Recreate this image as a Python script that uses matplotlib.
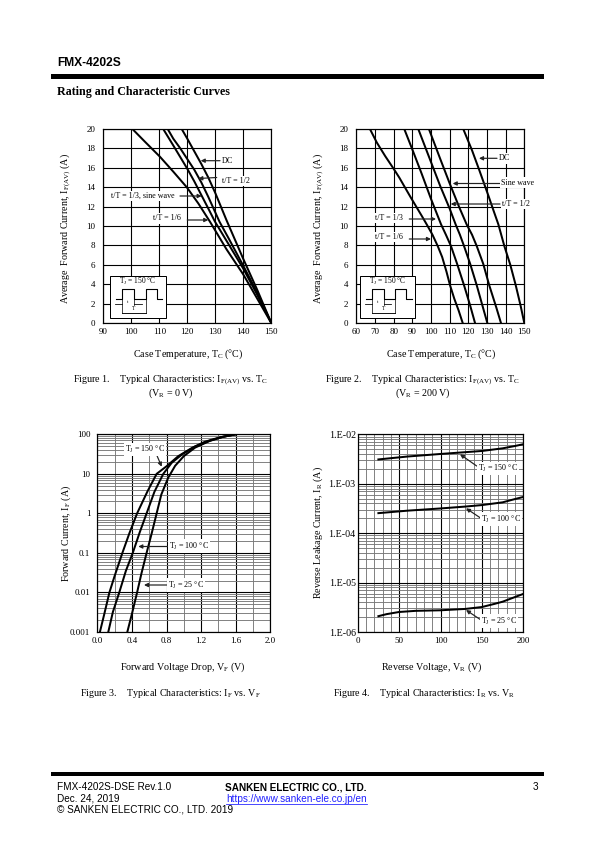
import numpy as np
import matplotlib
matplotlib.use('Agg')
import matplotlib.pyplot as plt
from matplotlib.lines import Line2D
from matplotlib.patches import Rectangle
from matplotlib.ticker import LogLocator, MultipleLocator, NullFormatter

plt.rcParams['font.family'] = ['Liberation Serif', 'DejaVu Sans']
plt.rcParams['mathtext.fontset'] = 'custom'
plt.rcParams['mathtext.rm'] = 'Liberation Serif'
plt.rcParams['mathtext.default'] = 'rm'

W, H = 595, 842

# figure 1, VR = 0 V
fig1_dc_t = [118, 120, 122.5, 125, 127.5, 130, 132, 134, 137, 140, 142.5, 145, 147.5, 150]
fig1_dc_i = [20, 19, 17.7, 16.4, 15, 13.4, 12, 10.6, 8.6, 6.6, 5, 3.4, 1.7, 0]
fig1_half_t = [113, 115, 117.5, 120, 122.5, 125, 127.5, 130, 131.5, 135, 140, 145, 150]
fig1_half_i = [20, 19, 18, 16.9, 15.8, 14.5, 13, 11.4, 10.44, 8.6, 5.9, 3.1, 0]
fig1_third_t = [111.4, 115, 117.5, 120, 122.5, 125, 127.5, 129.9, 135, 140, 145, 150]
fig1_third_i = [20, 18.3, 17.1, 15.9, 14.6, 13.2, 11.8, 10.44, 8, 5.6, 2.9, 0]
fig1_sixth_t = [100.4, 105, 110.2, 115, 119.8, 124, 128.1, 134, 140, 145, 150]
fig1_sixth_i = [20, 18.65, 17.15, 15.6, 14, 12.3, 10.44, 7.6, 5, 2.5, 0]

# figure 2, VR = 200 V
fig2_sixth_t = [67.3, 71, 75.5, 80, 83, 86, 89, 92.4, 95.2, 97.7, 100.8, 103.6, 106, 108.3, 110.2, 112.5, 114.8, 117]
fig2_sixth_i = [20, 18.6, 17.2, 15.9, 15, 14, 13, 11.9, 11, 10.17, 9.1, 7.94, 6.8, 5.3, 3.9, 2.5, 1.3, 0]
fig2_third_t = [85.7, 90, 95, 100, 105.4, 108, 110.7, 114, 117.7, 121, 123.6]
fig2_third_i = [20, 17.9, 15.4, 12.8, 10.17, 9.1, 7.94, 6.1, 3.9, 1.8, 0]
fig2_half_t = [93.2, 100, 105, 110, 113.2, 115.5, 117.7, 121, 124.5, 128, 130.2]
fig2_half_i = [20, 16.6, 14.1, 11.8, 10.17, 9.1, 7.94, 6.1, 3.9, 1.5, 0]
fig2_sine_t = [98.9, 105, 110, 115, 119.1, 122, 124.5, 128, 131.2, 135, 137.5]
fig2_sine_i = [20, 16.9, 14.4, 12, 10.17, 9.1, 7.94, 6.1, 3.9, 1.6, 0]
fig2_dc_t = [117.3, 122, 126, 131, 133.5, 136.1, 139.3, 142.5, 145.4, 148, 150]
fig2_dc_i = [20, 17.8, 15.7, 13, 11.6, 10.17, 7.94, 6, 3.9, 1.8, 0]

# figure 3
vf_150 = [0.03, 0.08, 0.14, 0.2, 0.29, 0.37, 0.46, 0.58, 0.686, 0.8, 0.936, 1.1, 1.245, 1.42, 1.6]
if_150 = [0.001, 0.0028, 0.01, 0.026, 0.1, 0.31, 1, 3.6, 10, 15.5, 28, 46, 65, 84, 100]
vf_100 = [0.127, 0.18, 0.254, 0.33, 0.41, 0.49, 0.57, 0.66, 0.763, 0.86, 0.98, 1.13, 1.3, 1.45, 1.6]
if_100 = [0.001, 0.0032, 0.01, 0.035, 0.1, 0.33, 1, 3.5, 10, 19, 31, 49, 69, 86, 100]
vf_25 = [0.347, 0.41, 0.46, 0.51, 0.57, 0.63, 0.686, 0.74, 0.82, 0.9, 1.0, 1.13, 1.3, 1.45, 1.6]
if_25 = [0.001, 0.0035, 0.01, 0.03, 0.1, 0.32, 1, 3, 8, 16, 28, 46, 68, 86, 100]

# figure 4
vr_150 = [25, 60, 100, 130, 150, 175, 190, 200]
ir_150 = [3.1e-3, 3.55e-3, 4.0e-3, 4.35e-3, 4.6e-3, 5.2e-3, 5.8e-3, 6.3e-3]
vr_100 = [25, 60, 100, 130, 150, 175, 190, 200]
ir_100 = [2.54e-4, 2.85e-4, 3.16e-4, 3.45e-4, 3.7e-4, 4.2e-4, 4.9e-4, 5.4e-4]
vr_25 = [25, 35, 50, 70, 100, 130, 150, 165, 175, 190, 200]
ir_25 = [2.09e-6, 2.3e-6, 2.54e-6, 2.68e-6, 2.75e-6, 2.93e-6, 3.2e-6, 3.7e-6, 4.1e-6, 5.1e-6, 5.9e-6]

lin_y_ticks = np.arange(0, 21, 2)
fig1_x_ticks = np.arange(90, 151, 10)
fig2_x_ticks = np.arange(60, 151, 10)
fig3_x_ticks = [0.0, 0.4, 0.8, 1.2, 1.6, 2.0]
fig3_y_ticks = [0.001, 0.01, 0.1, 1, 10, 100]
fig3_y_labels = ['0.001', '0.01', '0.1', '1', '10', '100']
fig4_x_ticks = [0, 50, 100, 150, 200]
fig4_y_ticks = [1e-6, 1e-5, 1e-4, 1e-3, 1e-2]
fig4_y_labels = ['1.E-06', '1.E-05', '1.E-04', '1.E-03', '1.E-02']


fig = plt.figure(figsize=(W / 72, H / 72), dpi=72)


def fx(x):
    return x / W


def fy(y):
    return 1 - y / H


def make_axes(left, right, top, bottom):
    ax = fig.add_axes([fx(left), fy(bottom), (right - left) / W, (bottom - top) / H])
    ax.set_axisbelow(True)
    for s in ax.spines.values():
        s.set_linewidth(1.2)
    ax.tick_params(which='both', length=0, labelsize=9)
    return ax


def label(x, y, s, size=9, ha='left', box=True, **kw):
    bbox = dict(fc='white', ec='none', pad=1.2) if box else None
    return fig.text(fx(x), fy(y), s, fontsize=size, ha=ha, va='center', bbox=bbox, zorder=6, **kw)


def arrow(x0, y0, x1, y1):
    ax4.annotate('', xy=(fx(x1), fy(y1)), xytext=(fx(x0), fy(y0)),
                 xycoords='figure fraction', textcoords='figure fraction',
                 arrowprops=dict(arrowstyle='-|>', color='#222222', lw=1.2, mutation_scale=8,
                                 shrinkA=0, shrinkB=0), annotation_clip=False, zorder=7)


def inset(x, y):
    # small pulse drawing, x and y are the upper left corner of the box
    fig.add_artist(Rectangle((fx(x), fy(y + 42)), 55.4 / W, 42 / H, transform=fig.transFigure,
                             fc='white', ec='black', lw=1, zorder=5))
    label(x + 27.7, y + 5.4, 'T$_{\\mathrm{J}}$ = 150 °C', size=7.5, ha='center', box=False)
    wave_x = [5.7, 12, 12, 23.7, 23.7, 35.4, 35.4, 46.4, 46.4, 51.7]
    wave_y = [22.6, 22.6, 12.3, 12.3, 22.6, 22.6, 12.3, 12.3, 22.6, 22.6]
    parts = [(wave_x, wave_y, 1.1),
             ([12, 12], [22.6, 37], 0.7), ([35.4, 35.4], [22.6, 37], 0.7),
             ([23.7, 23.7], [22.6, 29], 0.7), ([12, 35.4], [37, 37], 0.9),
             ([4.7, 12], [28, 28], 0.8), ([23.7, 31.4], [28, 28], 0.8)]
    for px, py, lw in parts:
        fig.add_artist(Line2D([fx(x + v) for v in px], [fy(y + v) for v in py], color='black',
                              lw=lw, transform=fig.transFigure, zorder=6))
    label(x + 17.5, y + 26, 't', size=5, ha='center', box=False)
    label(x + 23.7, y + 32, 'T', size=5.5, ha='center', box=False)


LW = 2.0

# figure 1
ax1 = make_axes(103.3, 271.3, 129, 323)
for t, i in [(fig1_dc_t, fig1_dc_i), (fig1_half_t, fig1_half_i),
             (fig1_third_t, fig1_third_i), (fig1_sixth_t, fig1_sixth_i)]:
    ax1.plot(t, i, color='black', lw=LW, solid_joinstyle='round')
ax1.set_xlim(90, 150)
ax1.set_ylim(0, 20)
ax1.set_xticks(fig1_x_ticks)
ax1.set_yticks(lin_y_ticks)
ax1.grid(True, color='black', lw=1.1)
ax1.tick_params(axis='x', pad=5)
ax1.tick_params(axis='y', pad=8)

# figure 2
ax2 = make_axes(356.3, 524.3, 129, 323)
for t, i in [(fig2_sixth_t, fig2_sixth_i), (fig2_third_t, fig2_third_i),
             (fig2_half_t, fig2_half_i), (fig2_sine_t, fig2_sine_i), (fig2_dc_t, fig2_dc_i)]:
    ax2.plot(t, i, color='black', lw=LW, solid_joinstyle='round')
ax2.set_xlim(60, 150)
ax2.set_ylim(0, 20)
ax2.set_xticks(fig2_x_ticks)
ax2.set_yticks(lin_y_ticks)
ax2.grid(True, color='black', lw=1.1)
ax2.tick_params(axis='x', pad=5)
ax2.tick_params(axis='y', pad=8)

# figure 3
ax3 = make_axes(97.3, 270.3, 434.3, 632)
for v, i in [(vf_150, if_150), (vf_100, if_100), (vf_25, if_25)]:
    ax3.semilogy(v, i, color='black', lw=LW, solid_joinstyle='round')
ax3.set_xlim(0, 2)
ax3.set_ylim(0.001, 100)
ax3.set_xticks(fig3_x_ticks)
ax3.set_xticklabels(['%.1f' % v for v in fig3_x_ticks])
ax3.xaxis.set_minor_locator(MultipleLocator(0.2))
ax3.set_yticks(fig3_y_ticks)
ax3.set_yticklabels(fig3_y_labels)
ax3.yaxis.set_minor_locator(LogLocator(base=10, subs=np.arange(2, 10), numticks=12))
ax3.yaxis.set_minor_formatter(NullFormatter())
ax3.grid(True, which='minor', color='#777777', lw=0.9)
ax3.grid(True, which='major', color='black', lw=1.1)
ax3.tick_params(axis='x', pad=5)
ax3.tick_params(axis='y', pad=7)

# figure 4
ax4 = make_axes(357.7, 523.3, 434.3, 632)
for v, i in [(vr_150, ir_150), (vr_100, ir_100), (vr_25, ir_25)]:
    ax4.semilogy(v, i, color='black', lw=LW, solid_joinstyle='round')
ax4.set_xlim(0, 200)
ax4.set_ylim(1e-6, 1e-2)
ax4.set_xticks(fig4_x_ticks)
ax4.xaxis.set_minor_locator(MultipleLocator(10))
ax4.set_yticks(fig4_y_ticks)
ax4.set_yticklabels(fig4_y_labels, fontsize=10)
ax4.yaxis.set_minor_locator(LogLocator(base=10, subs=np.arange(2, 10), numticks=12))
ax4.yaxis.set_minor_formatter(NullFormatter())
ax4.grid(True, which='minor', color='#777777', lw=0.9)
ax4.grid(True, which='major', color='black', lw=1.1)
ax4.tick_params(axis='x', pad=5)
ax4.tick_params(axis='y', pad=2)

# axis titles
temp_label = 'Case Temperature, T$_{\\mathrm{C}}$ (°C)'
avg_label = 'Average  Forward Current, I$_{\\mathrm{F(AV)}}$ (A)'
label(188, 354, temp_label, size=10, ha='center', box=False)
label(441, 354, temp_label, size=10, ha='center', box=False)
label(183, 667, 'Forward Voltage Drop, V$_{\\mathrm{F}}$ (V)', size=10, ha='center', box=False)
label(432, 667, 'Reverse Voltage, V$_{\\mathrm{R}}$ (V)', size=10, ha='center', box=False)
label(65.7, 228, avg_label, size=10, ha='center', box=False, rotation=90)
label(319, 228, avg_label, size=10, ha='center', box=False, rotation=90)
label(66, 533, 'Forward Current, I$_{\\mathrm{F}}$ (A)', size=10, ha='center', box=False, rotation=90)
label(318, 533, 'Reverse Leakage Current, I$_{\\mathrm{R}}$ (A)', size=10, ha='center', box=False, rotation=90)

# figure 1 notes
label(221.7, 160.7, 'DC', size=8)
arrow(220, 160.7, 200.7, 160.7)
label(221.7, 181, 't/T = 1/2', size=8)
arrow(216.7, 177.5, 198.3, 178.5)
label(111, 196, 't/T = 1/3, sine wave', size=8)
arrow(180, 196, 201.7, 196)
label(153.3, 218.3, 't/T = 1/6', size=8)
arrow(187.3, 220, 208.3, 220)
inset(110.3, 276.3)

# figure 2 notes
label(499, 158.3, 'DC', size=8)
arrow(497, 158.3, 479, 158.3)
label(501, 182.7, 'Sine wave', size=8)
arrow(500, 183.5, 452.7, 183.5)
label(501.7, 204.3, 't/T = 1/2', size=8)
arrow(500, 204, 450.7, 204)
label(375, 217.7, 't/T = 1/3', size=8)
arrow(409.3, 219, 436, 219)
label(375, 237, 't/T = 1/6', size=8)
arrow(409.3, 239, 431, 239)
inset(360, 276.3)

# figure 3 notes
label(125, 449.3, 'T$_{\\mathrm{J}}$ = 150 °C', size=8)
arrow(156.7, 455, 161.7, 466.7)
label(169, 546, 'T$_{\\mathrm{J}}$ = 100 °C', size=8)
arrow(168, 546.5, 138.3, 546.5)
label(167.7, 585, 'T$_{\\mathrm{J}}$ = 25 °C', size=8)
arrow(167, 585, 144, 585)

# figure 4 notes
label(477.7, 468.3, 'T$_{\\mathrm{J}}$ = 150 °C', size=8)
arrow(476.7, 466, 460, 454.3)
label(481, 519, 'T$_{\\mathrm{J}}$ = 100 °C', size=8)
arrow(481, 518.3, 466, 508.3)
label(481, 621, 'T$_{\\mathrm{J}}$ = 25 °C', size=8)
arrow(481, 620, 466, 610)

# captions
label(171, 380.5, 'Figure 1.    Typical Characteristics: I$_{\\mathrm{F(AV)}}$ vs. T$_{\\mathrm{C}}$', size=10, ha='center', box=False)
label(171, 393, '(V$_{\\mathrm{R}}$ = 0 V)', size=10, ha='center', box=False)
label(423, 380.5, 'Figure 2.    Typical Characteristics: I$_{\\mathrm{F(AV)}}$ vs. T$_{\\mathrm{C}}$', size=10, ha='center', box=False)
label(423, 393, '(V$_{\\mathrm{R}}$ = 200 V)', size=10, ha='center', box=False)
label(170, 693, 'Figure 3.    Typical Characteristics: I$_{\\mathrm{F}}$ vs. V$_{\\mathrm{F}}$', size=10, ha='center', box=False)
label(424, 693, 'Figure 4.    Typical Characteristics: I$_{\\mathrm{R}}$ vs. V$_{\\mathrm{R}}$', size=10, ha='center', box=False)

# page header and footer
label(57, 62.5, 'FMX-4202S', size=12, box=False, family=['Liberation Sans'], fontweight='bold')
fig.add_artist(Rectangle((fx(51), fy(78.5)), 493 / W, 4 / H, transform=fig.transFigure, fc='black', ec='none'))
label(57, 91.5, 'Rating and Characteristic Curves', size=12, box=False, fontweight='bold')
fig.add_artist(Rectangle((fx(51), fy(775.8)), 493 / W, 3.6 / H, transform=fig.transFigure, fc='black', ec='none'))
sans = ['Liberation Sans']
label(57, 787.5, 'FMX-4202S-DSE Rev.1.0', size=10, box=False, family=sans)
label(57, 798.5, 'Dec. 24, 2019', size=10, box=False, family=sans)
label(57, 810, '© SANKEN ELECTRIC CO., LTD. 2019', size=10, box=False, family=sans)
label(225, 787.5, 'SANKEN ELECTRIC CO., LTD.', size=10, box=False, family=sans, fontweight='bold')
label(226, 798.5, 'https://www.sanken-ele.co.jp/en', size=10, box=False, family=sans, color='#2020ff')
fig.add_artist(Line2D([fx(226), fx(367)], [fy(804), fy(804)], color='#2020ff', lw=0.8, transform=fig.transFigure))
label(533, 787.5, '3', size=10, box=False, family=sans)

fig.savefig('out.png', dpi=72)
